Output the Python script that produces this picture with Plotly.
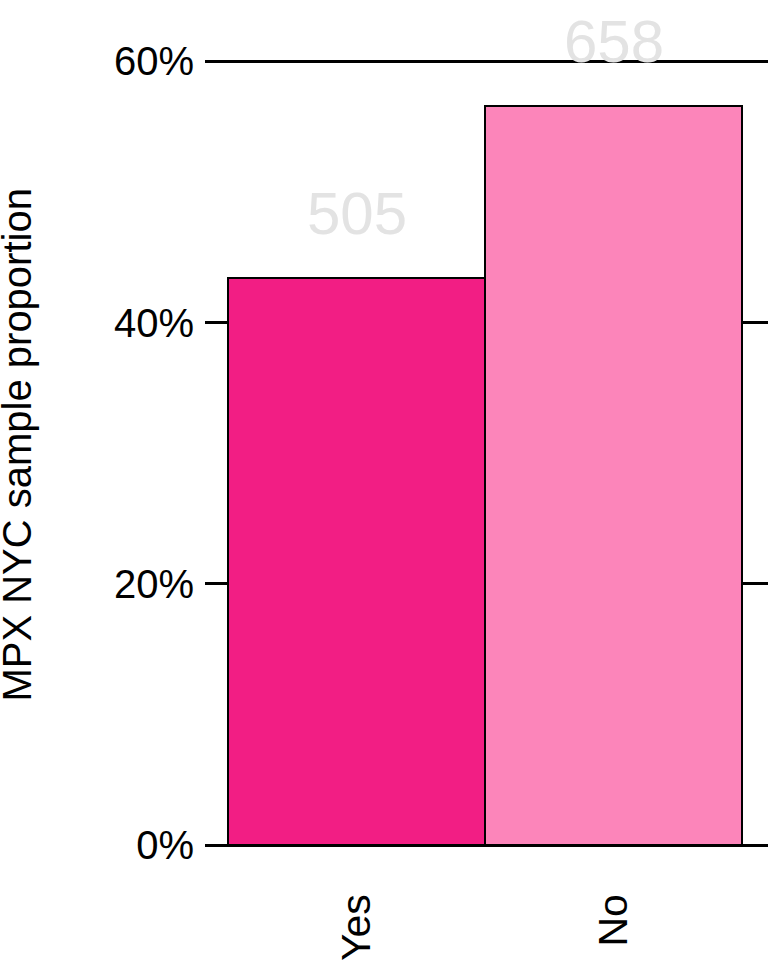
import plotly.graph_objects as go

categories = ["Yes", "No"]
counts = [505, 658]
total = sum(counts)
proportions = [c / total for c in counts]
colors = ["#F21E84", "#FC85BA"]
y_ticks = [0, 0.2, 0.4, 0.6]
y_tick_labels = ["0%", "20%", "40%", "60%"]
y_title = "MPX NYC sample proportion"

FONT = "Liberation Sans, Arial, sans-serif"

fig = go.Figure()
fig.add_trace(go.Bar(
    x=categories,
    y=proportions,
    marker=dict(color=colors, line=dict(color="black", width=2)),
    width=1,
    showlegend=False,
    hoverinfo="skip",
))

for cat, p, c in zip(categories, proportions, counts):
    fig.add_annotation(
        x=cat, y=p, text=str(c), showarrow=False,
        yanchor="bottom", yshift=29,
        font=dict(family=FONT, size=60, color="#E3E3E3"),
    )

fig.add_annotation(
    xref="paper", yref="paper", x=-0.334, y=0.51,
    xanchor="center", yanchor="middle", textangle=-90,
    text=y_title, showarrow=False,
    font=dict(family=FONT, size=40, color="black"),
)

fig.update_layout(
    width=768, height=960,
    margin=dict(l=205, r=0, t=60, b=115),
    plot_bgcolor="white", paper_bgcolor="white",
    bargap=0,
    font=dict(family=FONT, size=40, color="black"),
    xaxis=dict(
        type="category",
        range=[-0.5895, 1.601],
        showgrid=False, zeroline=False, showline=False,
        ticks="", tickangle=-90,
        ticklabelstandoff=40,
        tickfont=dict(family=FONT, size=41, color="black"),
    ),
    yaxis=dict(
        range=[0, 0.601],
        tickvals=y_ticks, ticktext=y_tick_labels,
        showgrid=True, gridcolor="black", gridwidth=2.5,
        zeroline=True, zerolinecolor="black", zerolinewidth=2.5,
        showline=False, ticks="",
        ticklabelstandoff=10,
        tickfont=dict(family=FONT, size=40, color="black"),
        automargin=False,
    ),
)

fig.write_html("out.html", config={"displayModeBar": False},
               post_script="document.body.style.margin='0';")
